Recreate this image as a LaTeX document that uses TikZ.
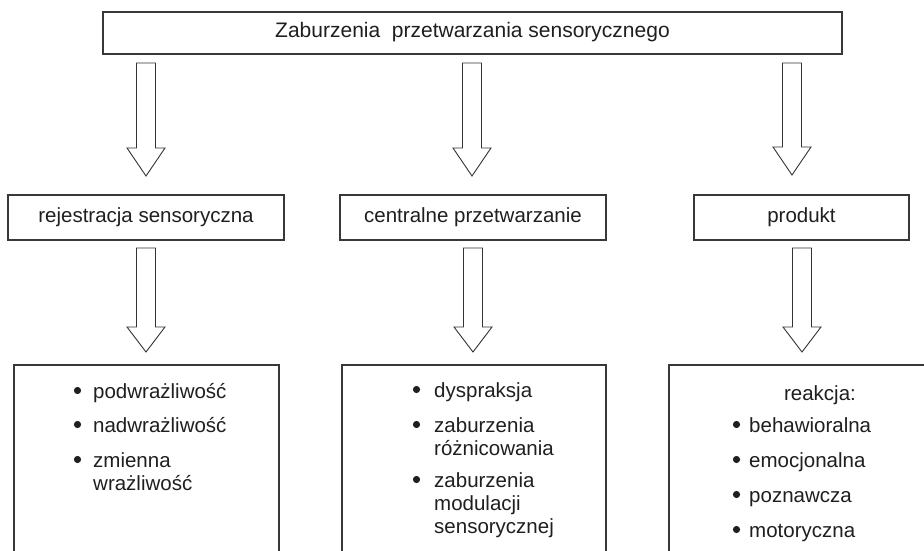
\documentclass[tikz,border=0pt]{standalone}
\usepackage{fontspec}
\setmainfont{Liberation Sans}
\usetikzlibrary{calc}
\newcommand\blockarr[4]{%
  \draw[barrow] (#1-9.5,#2) -- (#1+9.5,#2) -- (#1+9.5,#3-#4) -- (#1+19,#3-#4)
    -- (#1,#3) -- (#1-19,#3-#4) -- (#1-9.5,#3-#4) -- cycle;}
\begin{document}
\begin{tikzpicture}[x=1pt,y=-1pt]
\tikzset{
  box/.style={draw=black!78, line width=1.1pt, rectangle, inner sep=0pt,
    font=\fontsize{20.5}{24}\selectfont, text=black!88,
    text height=0.9em, text depth=0pt},
  lbl/.style={font=\fontsize{20.5}{24}\selectfont, text=black!88, inner sep=0pt, anchor=base west},
  lblc/.style={font=\fontsize{20.5}{24}\selectfont, text=black!88, inner sep=0pt, anchor=base},
  dot/.style={circle, fill=black!88, inner sep=0pt, minimum size=7.2pt},
  barrow/.style={draw=black!80, line width=0.9pt, fill=white, line join=miter}
}
\useasboundingbox (0,0) rectangle (924,551);
\clip (0,0) rectangle (924,551);
\fill[white] (0,0) rectangle (924,551);

% top box
\node[box, minimum width=739, minimum height=42, font=\fontsize{21}{24}\selectfont] (top) at (472.5,33) {Zaburzenia\ \ przetwarzania sensorycznego};

% middle row
\node[box, minimum width=276, minimum height=45] (L) at (146,217.5) {rejestracja sensoryczna};
\node[box, minimum width=266, minimum height=45] (M) at (473,217.5) {centralne przetwarzanie};
\node[box, minimum width=215, minimum height=45] (R) at (801.5,217.5) {produkt};

% bottom boxes (extend beyond the frame)
\node[box, minimum width=265, minimum height=235] (LB) at (146.5,482.5) {};
\node[box, minimum width=264, minimum height=235] (MB) at (474,482.5) {};
\node[box, minimum width=271, minimum height=235] (RB) at (804.5,482.5) {};

% block arrows
\blockarr{146}{63}{176}{28}
\blockarr{472}{63}{176}{28}
\blockarr{792}{63}{175}{28}
\blockarr{146}{248}{352}{25}
\blockarr{473}{248}{352}{25}
\blockarr{802}{248}{352}{25}

% left list
\node[dot] (l1b) at (77.5,390.5) {};
\node[lbl] (l1) at (93,398) {podwrażliwość};
\node[dot] (l2b) at (77.5,424.5) {};
\node[lbl] (l2) at (93,432) {nadwrażliwość};
\node[dot] (l3b) at (77.5,459.5) {};
\node[lbl] (l3) at (93,467) {zmienna};
\node[lbl] (l3c) at (93,490) {wrażliwość};

% middle list
\node[dot] (m1b) at (416.5,389.5) {};
\node[lbl] (m1) at (434,397) {dyspraksja};
\node[dot] (m2b) at (416.5,424.5) {};
\node[lbl] (m2) at (434,432) {zaburzenia};
\node[lbl] (m2c) at (434,455) {różnicowania};
\node[dot] (m3b) at (416.5,479.5) {};
\node[lbl] (m3) at (434,487) {zaburzenia};
\node[lbl] (m3c) at (434,510) {modulacji};
\node[lbl] (m3d) at (434,533) {sensorycznej};

% right list
\node[lblc] (r0) at (820,400) {reakcja:};
\node[dot] (r1b) at (736.5,424.5) {};
\node[lbl] (r1) at (749,432) {behawioralna};
\node[dot] (r2b) at (736.5,459.5) {};
\node[lbl] (r2) at (749,467) {emocjonalna};
\node[dot] (r3b) at (736.5,494.5) {};
\node[lbl] (r3) at (749,502) {poznawcza};
\node[dot] (r4b) at (736.5,529.5) {};
\node[lbl] (r4) at (749,537) {motoryczna};
\end{tikzpicture}
\end{document}
